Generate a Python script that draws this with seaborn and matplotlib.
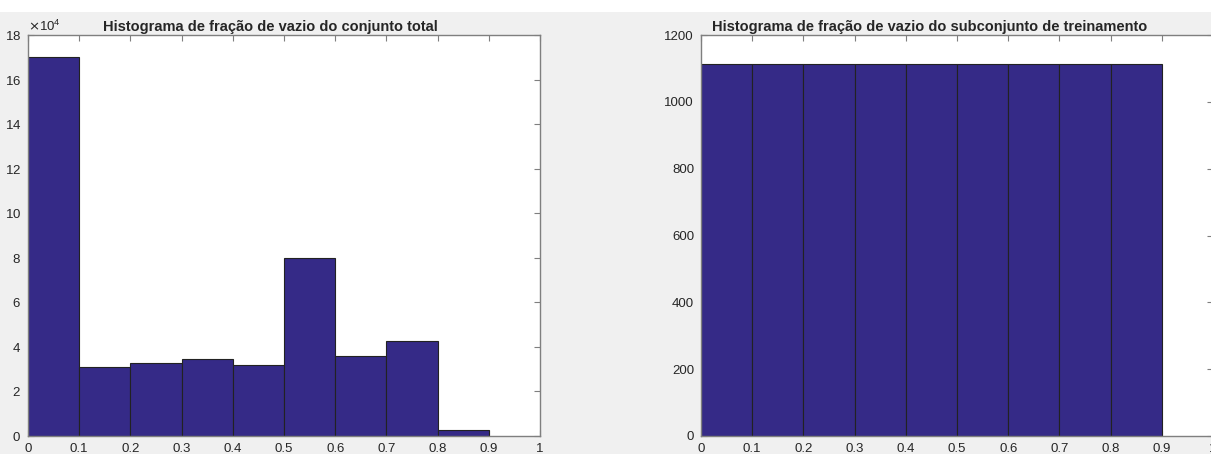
import numpy as np
import pandas as pd
import matplotlib
matplotlib.use('Agg')
import matplotlib.pyplot as plt
from matplotlib.patches import Rectangle
from matplotlib.ticker import ScalarFormatter, MultipleLocator
import seaborn as sns

# 数据：直方图的分箱与计数
bin_edges = [0.0, 0.1, 0.2, 0.3, 0.4, 0.5, 0.6, 0.7, 0.8, 0.9]
bin_centers = [0.05, 0.15, 0.25, 0.35, 0.45, 0.55, 0.65, 0.75, 0.85]
counts_total = [170200, 31000, 32800, 34500, 31700, 79800, 36100, 42600, 2800]
counts_train = [1113, 1113, 1113, 1113, 1113, 1113, 1113, 1113, 1113]

title_total = "Histograma de fração de vazio do conjunto total"
title_train = "Histograma de fração de vazio do subconjunto de treinamento"
x_ticks = [0, 0.1, 0.2, 0.3, 0.4, 0.5, 0.6, 0.7, 0.8, 0.9, 1]

sns.set_style("white")
plt.rcParams['font.family'] = ['Liberation Sans', 'DejaVu Sans']

W, H = 1211, 454
fig = plt.figure(figsize=(W / 100, H / 100), dpi=100, facecolor='#f0f0f0')
# 顶部白色条带
fig.patches.append(Rectangle((0, 1 - 12 / H), 1, 12 / H, transform=fig.transFigure,
                             facecolor='white', edgecolor='none', zorder=-1))

ax1 = fig.add_axes([28 / W, 18 / H, 512 / W, 401 / H])
ax2 = fig.add_axes([701 / W, 18 / H, 512 / W, 401 / H])

bar_color = '#352a87'
df_total = pd.DataFrame({'x': bin_centers, 'n': counts_total})
df_train = pd.DataFrame({'x': bin_centers, 'n': counts_train})

sns.histplot(data=df_total, x='x', weights='n', bins=bin_edges, ax=ax1,
             color=bar_color, alpha=1, edgecolor='#222222', linewidth=0.8)
sns.histplot(data=df_train, x='x', weights='n', bins=bin_edges, ax=ax2,
             color=bar_color, alpha=1, edgecolor='#222222', linewidth=0.8)


def style_axis(ax, ylim, ystep):
    ax.set_facecolor('white')
    ax.set_xlim(0, 1)
    ax.set_ylim(*ylim)
    ax.set_xticks(x_ticks)
    ax.set_xticklabels([f"{t:g}" for t in x_ticks])
    ax.yaxis.set_major_locator(MultipleLocator(ystep))
    ax.set_xlabel('')
    ax.set_ylabel('')
    for sp in ax.spines.values():
        sp.set_visible(True)
        sp.set_color('#7f7f7f')
        sp.set_linewidth(1.0)
    ax.tick_params(direction='in', length=4, width=0.8, color='#7f7f7f',
                   top=True, right=True, bottom=True, left=True,
                   labelsize=9.5, labelcolor='#262626', pad=5)
    ax.tick_params(axis='x', pad=5)


style_axis(ax1, (0, 180000), 20000)
style_axis(ax2, (0, 1200), 200)

fmt = ScalarFormatter(useMathText=True)
fmt.set_powerlimits((4, 4))
ax1.yaxis.set_major_formatter(fmt)
ax1.yaxis.get_offset_text().set_fontsize(9.5)
ax1.yaxis.get_offset_text().set_color('#262626')

ax1.set_title(title_total, fontsize=10.5, fontweight='bold', x=0.473, pad=3)
ax2.set_title(title_train, fontsize=10.5, fontweight='bold', x=0.447, pad=3)

fig.savefig('out.png', dpi=100, facecolor=fig.get_facecolor())
